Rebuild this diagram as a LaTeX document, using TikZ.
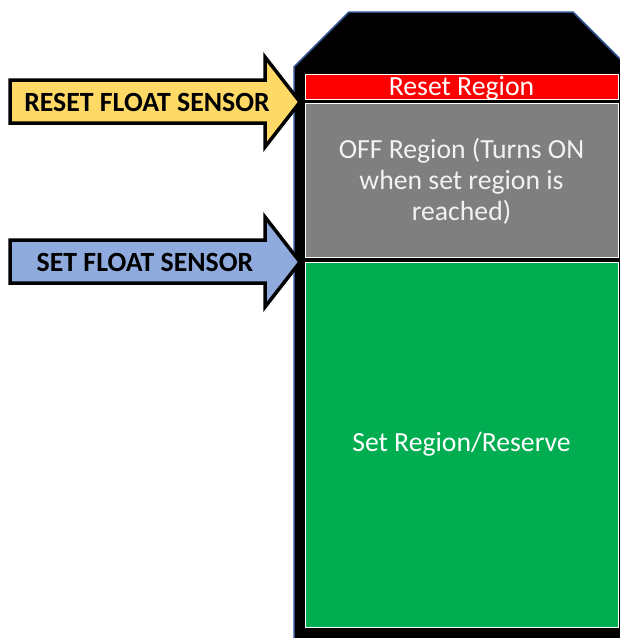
\documentclass[tikz,border=0pt]{standalone}
\usepackage{fontspec}
\setmainfont{Carlito}
\definecolor{regred}{HTML}{FF0000}
\definecolor{reggray}{HTML}{7F7F7F}
\definecolor{reggreen}{HTML}{00AD50}
\definecolor{tankblue}{HTML}{2F528F}
\definecolor{arrowyellow}{HTML}{FFD966}
\definecolor{arrowblue}{HTML}{8FAADC}
\definecolor{lighttext}{HTML}{F2F2F2}
\begin{document}
\begin{tikzpicture}[x=1pt,y=-1pt,
  region/.style={draw=white, line width=1pt, inner sep=0pt, minimum width=313pt},
  regtext/.style={font=\fontsize{27.7}{31}\selectfont, inner sep=0pt, anchor=base, align=center},
  bigarrow/.style={draw=black, line width=3.5pt, line join=miter},
  arrowtext/.style={font=\fontsize{27.8}{30}\selectfont\bfseries, text=black, inner sep=0pt}]
\useasboundingbox (0,0) rectangle (620,638);
\fill[white] (0,0) rectangle (620,638);
% tank
\draw[draw=tankblue, line width=1.5pt, fill=black]
  (294,640) -- (294,67) -- (349,12) -- (573,12) -- (628,67) -- (628,640);
% regions
\node[region, fill=regred, minimum height=25pt] (reset) at (461.5,86.5) {};
\node[regtext, text=white] (resettext) at (461.5,95) {Reset Region};
\node[region, fill=reggray, minimum height=154pt] (off) at (461.5,180) {};
\node[regtext, text=lighttext] (offtext) at (461.5,220)
  {OFF Region (Turns ON\\when set region is\\reached)};
\node[region, fill=reggreen, minimum height=365pt] (set) at (461.5,444.5) {};
\node[regtext, text=white] (settext) at (461.5,451) {Set Region/Reserve};
% arrows
\filldraw[bigarrow, fill=arrowyellow]
  (10,80) -- (265,80) -- (265,57) -- (300,102) -- (265,147) -- (265,123) -- (10,123) -- cycle;
\node[arrowtext] (resetlabel) at (147,102) {RESET FLOAT SENSOR};
\filldraw[bigarrow, fill=arrowblue]
  (10,240) -- (265,240) -- (265,217) -- (300,262) -- (265,307) -- (265,283) -- (10,283) -- cycle;
\node[arrowtext] (setlabel) at (145,262) {SET FLOAT SENSOR};
\end{tikzpicture}
\end{document}
